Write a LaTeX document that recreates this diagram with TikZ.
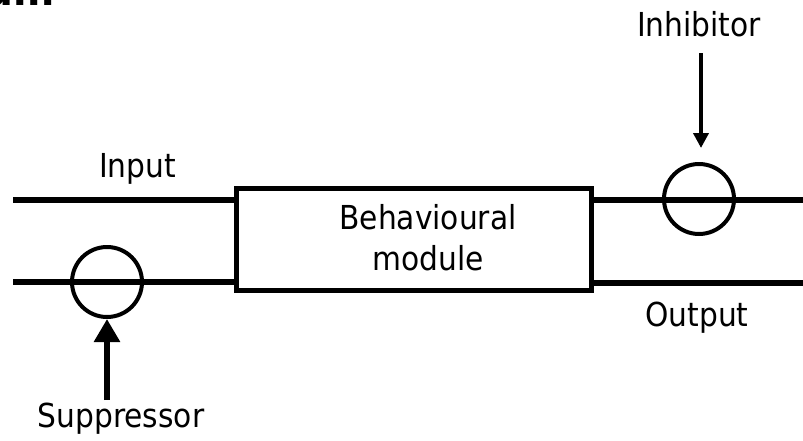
\documentclass[tikz,border=0pt]{standalone}
\usepackage{fontspec}
\setmainfont{DejaVu Sans Condensed}
\usetikzlibrary{arrows.meta}
\begin{document}
\begin{tikzpicture}[x=1pt,y=-1pt,
  lbl/.style={font=\fontsize{33}{41}\selectfont, inner sep=0pt},
  wire/.style={line width=6pt},
  ring/.style={circle, draw, line width=4pt, minimum size=70pt, inner sep=0pt},
  modbox/.style={draw, line width=5pt, minimum width=355pt, minimum height=102pt, inner sep=0pt}]
\useasboundingbox (0,0) rectangle (803,440);
% fragment of a title cut off at the top
\node[anchor=base east, inner sep=0pt, font=\bfseries\fontsize{44}{44}\selectfont] (frag) at (55,5) {am};
% module
\node[modbox] (box) at (413.5,239) {};
\node[lbl, align=center] (boxtxt) at (428,238) {Behavioural\\module};
% wires
\coordinate (inL) at (13,200);
\coordinate (supL) at (13,282);
\coordinate (outR) at (803,200);
\coordinate (outR2) at (803,283);
\draw[wire] (inL) -- (inL -| box.west);
\draw[wire] (supL) -- (supL -| box.west);
\draw[wire] (outR -| box.east) -- (outR);
\draw[wire] (outR2 -| box.east) -- (outR2);
% circles
\node[ring] (supc) at (107,282) {};
\node[ring] (inhc) at (699,199) {};
% labels
\node[lbl, anchor=base] (input) at (137.5,177) {Input};
\node[lbl, anchor=base] (output) at (697,326) {Output};
\node[lbl, anchor=base] (supp) at (121,427) {Suppressor};
\node[lbl, anchor=base] (inh) at (699,36) {Inhibitor};
% arrows
\coordinate (inhs) at (701,53);
\coordinate (inhe) at (701,148);
\draw[line width=4pt, -{Triangle[width=15pt,length=15pt]}] (inhs) -- (inhe);
\coordinate (sups) at (107,400);
\draw[line width=6pt, -{Triangle[width=25pt,length=23pt]}] (sups) -- (supc.south);
\end{tikzpicture}
\end{document}
